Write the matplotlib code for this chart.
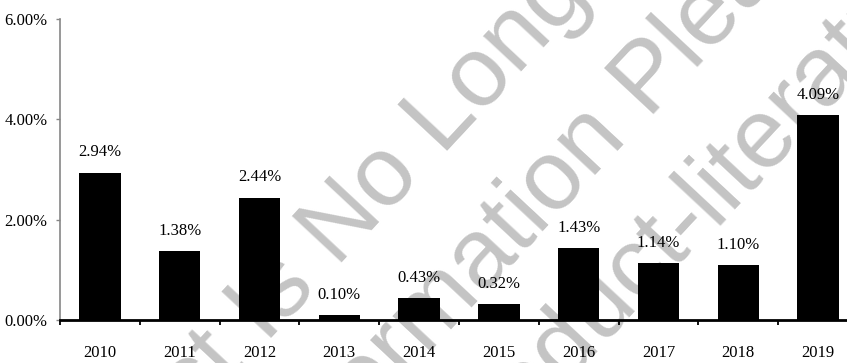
import matplotlib

matplotlib.use("Agg")
import matplotlib.pyplot as plt
from matplotlib.ticker import FuncFormatter

years = ["2010", "2011", "2012", "2013", "2014", "2015", "2016", "2017", "2018", "2019"]
rates = [2.94, 1.38, 2.44, 0.10, 0.43, 0.32, 1.43, 1.14, 1.10, 4.09]
y_ticks = [0, 2, 4, 6]

# watermark pieces: (text, anchor x px, anchor y px, alignment)
watermark = [
    ("This Product Is No", 423, 176, "right"),
    ("Longer Available", 442, 156, "left"),
    ("For More Information", 629, 139, "right"),
    ("Please Visit", 648, 119, "left"),
    ("www.example.com/product", 693, 250, "right"),
    ("-literature", 693, 250, "left"),
]

W, H = 847, 363
fig = plt.figure(figsize=(W / 100, H / 100), dpi=100)
ax = fig.add_axes([60 / W, 1 - 320 / H, 798 / W, 301 / H])
ax.patch.set_facecolor("none")

for s, px, py, ha in watermark:
    fig.text(px / W, 1 - py / H, s, rotation=47, rotation_mode="anchor",
             ha=ha, va="baseline", fontsize=71, color="#c4c4c4",
             family="Liberation Sans", zorder=-1)

serif = "Liberation Serif"
fs = 12
x = range(len(years))
bars = ax.bar(x, rates, width=0.52, color="black", zorder=3)
for b, v in zip(bars, rates):
    ax.annotate(f"{v:.2f}%", (b.get_x() + b.get_width() / 2, v),
                xytext=(0, 14.5), textcoords="offset points",
                ha="center", va="center", fontsize=fs, family=serif)

ax.set_xlim(-0.5, len(years) - 0.5)
ax.set_ylim(0, 6)
ax.set_yticks(y_ticks)
ax.yaxis.set_major_formatter(FuncFormatter(lambda v, _: f"{v:.2f}%"))
ax.set_xticks(list(x))
ax.set_xticklabels(years)
ax.set_xticks([i - 0.5 for i in range(len(years) + 1)], minor=True)

ax.tick_params(axis="x", which="major", length=0, pad=18, labelsize=fs)
ax.tick_params(axis="x", which="minor", length=3.5, width=1.3, color="black", direction="out")
ax.tick_params(axis="y", length=3, width=1, color="#868686", pad=6, labelsize=fs)
for lab in ax.get_xticklabels() + ax.get_yticklabels():
    lab.set_family(serif)

for side in ("top", "right"):
    ax.spines[side].set_visible(False)
ax.spines["left"].set_color("#868686")
ax.spines["left"].set_linewidth(1.2)
ax.spines["bottom"].set_color("black")
ax.spines["bottom"].set_linewidth(2)
ax.spines["bottom"].set_zorder(4)

fig.savefig("out.png", dpi=100)
